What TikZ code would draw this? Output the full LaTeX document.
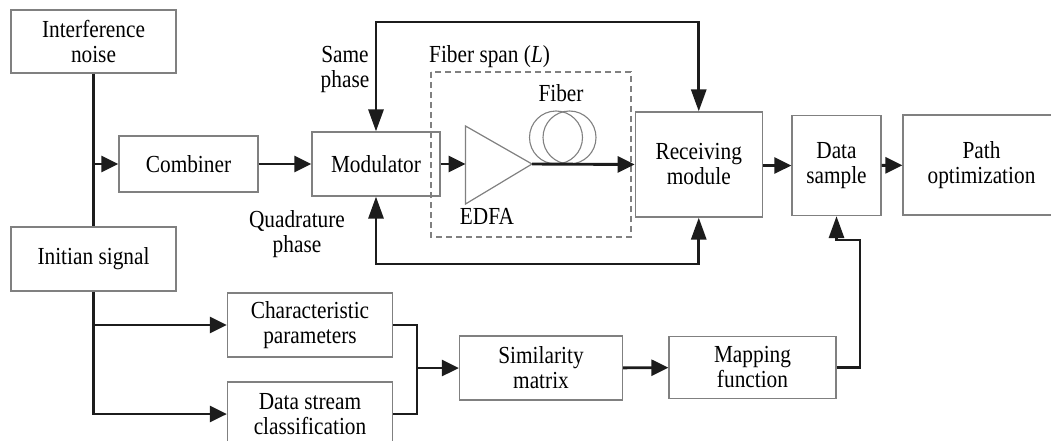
\documentclass[tikz,border=0pt]{standalone}
\usepackage{fontspec}
\setmainfont{Liberation Serif}[FakeStretch=0.87]
\usepackage{xcolor}
\usetikzlibrary{positioning,calc,arrows.meta}
\definecolor{boxgray}{RGB}{128,128,128}
\definecolor{linedark}{RGB}{28,28,28}

\begin{document}
\begin{tikzpicture}[x=1pt, y=-1pt,
    >={Triangle[length=17pt,width=16pt]},
    box/.style={draw=boxgray, line width=1.2pt, align=center, inner sep=0pt, font=\fontsize{24.5}{25}\selectfont},
    lbl/.style={align=center, inner sep=0pt, font=\fontsize{24.5}{25}\selectfont},
    wire/.style={draw=linedark, line width=2.9pt},
    flow/.style={wire, ->},
    vtip/.style={wire, {Triangle[length=22pt,width=15pt]}-{Triangle[length=22pt,width=15pt]}}]
    \useasboundingbox (0,0) rectangle (1051,441);

    % Blocks
    \node[box, minimum width=165, minimum height=63] (noise) at (93.5,41.5) {Interference\\noise};
    \node[box, minimum width=139, minimum height=56] (comb) at (188.5,164) {Combiner};
    \node[box, minimum width=128, minimum height=64] (mod) at (376,164) {Modulator};
    \node[box, minimum width=165, minimum height=64] (sig) at (93.5,259) {Initian signal};
    \node[box, minimum width=127, minimum height=105] (rec) at (698.75,164.5) {Receiving\\module};
    \node[box, minimum width=89, minimum height=100] (dsamp) at (836.5,165.5) {Data\\sample};
    \node[box, minimum width=157, minimum height=100] (path) at (981.5,165) {Path\\optimization};
    \node[box, minimum width=165, minimum height=64] (char) at (310,325) {Characteristic\\parameters};
    \node[box, minimum width=165, minimum height=64] (dstream) at (310,414) {Data stream\\classification};
    \node[box, minimum width=163, minimum height=64] (sim) at (541,368) {Similarity\\matrix};
    \node[box, minimum width=167, minimum height=62] (map) at (752.5,367.5) {Mapping\\function};

    % Fiber span
    \draw[boxgray, line width=1.2pt, dash pattern=on 6pt off 4pt] (431,72) rectangle (631,237);
    \node[lbl, anchor=west] (spanlbl) at (429,57) {Fiber span (\textit{L})};
    \coordinate (edfain) at (465.5,164);
    \coordinate (edfaout) at (532,164);
    \draw[boxgray, line width=1.2pt] (465.5,126) -- (edfaout) -- (465.5,204) -- cycle;
    \node[lbl] (edfalbl) at (487,216) {EDFA};
    \draw[boxgray, line width=1.1pt] (556,137.5) circle[radius=26.5];
    \draw[boxgray, line width=1.1pt] (569.5,137.5) circle[radius=26.5];
    \node[lbl] (fiberlbl) at (561,93) {Fiber};

    % Phase labels
    \node[lbl] (samelbl) at (345,69) {Same\\phase};
    \node[lbl] (quadlbl) at (297,234.5) {Quadrature\\phase};
    \coordinate (ptop) at (537,22);
    \coordinate (pbot) at (537,264);

    % Connections
    \draw[wire] (noise) -- (sig);
    \draw[flow] (noise.south |- comb.west) -- (comb.west);
    \draw[flow] (comb) -- (mod);
    \draw[flow] (mod.east) -- (edfain);
    \draw[flow] (edfaout) -- (rec.west);
    \draw[vtip] (mod.north) |- (ptop) -| (rec.north);
    \draw[vtip] (mod.south) |- (pbot) -| (rec.south);
    \draw[flow] (rec.east |- dsamp.west) -- (dsamp.west);
    \draw[flow] (dsamp) -- (path);

    % Lower branch
    \draw[flow] (sig.south) |- (dstream.west);
    \draw[flow] (sig.south |- char.west) -- (char.west);
    \coordinate (mrg) at (417,368);
    \draw[wire] (char.east) -| (mrg);
    \draw[wire] (dstream.east) -| (mrg);
    \draw[flow] (mrg) -- (sim.west);
    \draw[flow] (sim) -- (map);
    \coordinate (turn) at (860,240);
    \draw[wire, -{Triangle[length=22pt,width=15pt]}] (map.east) -| (turn) -| (dsamp.south);
\end{tikzpicture}
\end{document}
